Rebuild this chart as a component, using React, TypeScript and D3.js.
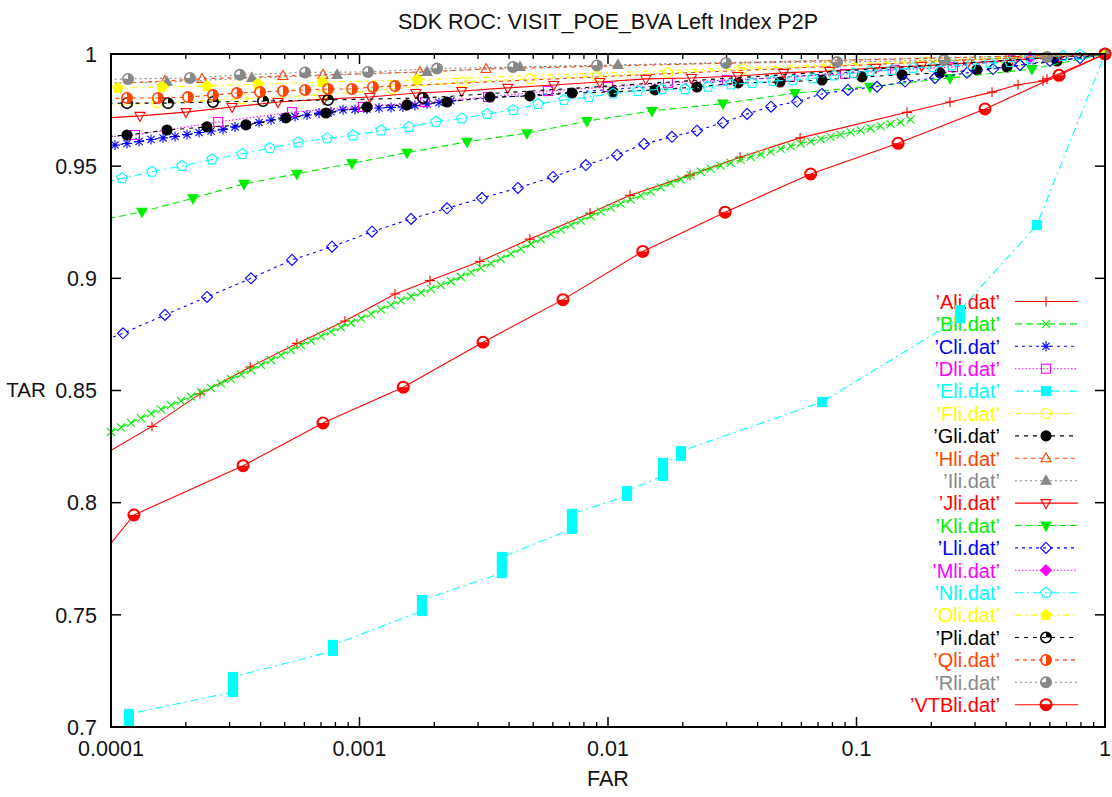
import React from "react";
import * as d3 from "d3";

type Pt = [number, number];

const TITLE = "SDK ROC: VISIT_POE_BVA Left Index P2P";
const X_LABEL = "FAR";
const Y_LABEL = "TAR";
const xTicks = [1e-4, 1e-3, 1e-2, 1e-1, 1];
const xTickLabels = ["0.0001", "0.001", "0.01", "0.1", "1"];
const yTicks = [0.7, 0.75, 0.8, 0.85, 0.9, 0.95, 1];
const yTickLabels = ["0.7", "0.75", "0.8", "0.85", "0.9", "0.95", "1"];

const dataA: Pt[] = [
  [9.03e-5, 0.8205], [1.462e-4, 0.834], [2.281e-4, 0.8485], [3.63e-4, 0.8605], [5.6e-4, 0.871],
  [8.74e-4, 0.881], [1.39e-3, 0.893], [1.921e-3, 0.899], [3.05e-3, 0.9075], [4.85e-3, 0.9175],
  [8.47e-3, 0.929], [1.226e-2, 0.937], [2.138e-2, 0.946], [3.4e-2, 0.954], [5.93e-2, 0.9626],
  [0.1597, 0.974], [0.2378, 0.9786], [0.351, 0.983], [0.4467, 0.9863], [0.563, 0.988],
  [0.5842, 0.9889], [1, 1],
];

const farB = [
  1.0e-4, 1.097e-4, 1.203e-4, 1.32e-4, 1.448e-4, 1.589e-4, 1.743e-4, 1.912e-4, 2.097e-4, 2.301e-4,
  2.524e-4, 2.769e-4, 3.038e-4, 3.333e-4, 3.656e-4, 4.011e-4, 4.4e-4, 4.827e-4, 5.295e-4, 5.809e-4,
  6.373e-4, 6.991e-4, 7.669e-4, 8.414e-4, 9.23e-4, 1.013e-3, 1.111e-3, 1.219e-3, 1.337e-3, 1.467e-3,
  1.609e-3, 1.765e-3, 1.936e-3, 2.124e-3, 2.33e-3, 2.556e-3, 2.805e-3, 3.077e-3, 3.375e-3, 3.703e-3,
  4.062e-3, 4.456e-3, 4.889e-3, 5.363e-3, 5.883e-3, 6.454e-3, 7.081e-3, 7.768e-3, 8.521e-3, 9.348e-3,
  1.026e-2, 1.125e-2, 1.234e-2, 1.354e-2, 1.485e-2, 1.63e-2, 1.788e-2, 1.961e-2, 2.151e-2, 2.36e-2,
  2.589e-2, 2.841e-2, 3.116e-2, 3.419e-2, 3.75e-2, 4.114e-2, 4.513e-2, 4.951e-2, 5.432e-2, 5.959e-2,
  6.537e-2, 7.171e-2, 7.867e-2, 8.63e-2, 9.468e-2, 0.1039, 0.114, 0.125, 0.1371, 0.1504, 0.165,
];
const tarB = [
  0.8315, 0.8336, 0.8356, 0.8377, 0.8397, 0.8416, 0.8435, 0.8454, 0.8473, 0.8492,
  0.8512, 0.8532, 0.8552, 0.8572, 0.8592, 0.8614, 0.8636, 0.8658, 0.868, 0.8702,
  0.8722, 0.8742, 0.8762, 0.8782, 0.8802, 0.8822, 0.8842, 0.8862, 0.8882, 0.8902,
  0.8919, 0.8936, 0.8953, 0.897, 0.8987, 0.9007, 0.9027, 0.9047, 0.9067, 0.9087,
  0.9109, 0.9131, 0.9153, 0.9175, 0.9197, 0.9217, 0.9237, 0.9257, 0.9277, 0.9297,
  0.9315, 0.9333, 0.9351, 0.9369, 0.9387, 0.9405, 0.9423, 0.9441, 0.9459, 0.9476,
  0.9489, 0.9502, 0.9515, 0.9528, 0.9541, 0.9553, 0.9565, 0.9577, 0.9589, 0.9601,
  0.9611, 0.9621, 0.9631, 0.9641, 0.9651, 0.966, 0.9669, 0.9678, 0.9687, 0.9696, 0.9707,
];

const farC = [
  9.0e-5, 1.038e-4, 1.16e-4, 1.297e-4, 1.449e-4, 1.62e-4, 1.81e-4, 2.023e-4, 2.261e-4, 2.527e-4,
  2.824e-4, 3.156e-4, 3.527e-4, 3.942e-4, 4.405e-4, 4.923e-4, 5.502e-4, 6.149e-4, 6.872e-4, 7.68e-4,
  8.583e-4, 9.592e-4, 1.072e-3, 1.198e-3, 1.339e-3, 1.496e-3, 1.672e-3, 1.869e-3, 2.088e-3, 2.334e-3, 1,
];
const tarC = [
  0.9588, 0.9594, 0.9601, 0.961, 0.9619, 0.9626, 0.9632, 0.9641, 0.965, 0.9657,
  0.9664, 0.9675, 0.9684, 0.9695, 0.9706, 0.9715, 0.9721, 0.9728, 0.9737, 0.9742,
  0.9751, 0.9753, 0.9755, 0.9759, 0.9762, 0.9764, 0.977, 0.9777, 0.9784, 0.9791, 1,
];

const dataD: Pt[] = [
  [7e-5, 0.962], [1.249e-4, 0.9639], [2.7e-4, 0.9697], [5.35e-4, 0.9741], [1.033e-3, 0.9764],
  [1.835e-3, 0.9786], [3.29e-3, 0.9808], [5.73e-3, 0.9835], [1.0e-2, 0.9853], [1.743e-2, 0.9871],
  [3.01e-2, 0.9884], [5.4e-2, 0.9898], [8.99e-2, 0.9911], [0.1429, 0.9929], [0.2445, 0.9942],
  [0.4147, 0.9973], [1, 1],
];

const dataE: Pt[] = [
  [1.181e-4, 0.7018], [1.181e-4, 0.704], [1.181e-4, 0.7058],
  [3.1e-4, 0.7156], [3.1e-4, 0.7192], [3.1e-4, 0.7223],
  [7.82e-4, 0.7339], [7.82e-4, 0.7366],
  [1.784e-3, 0.7517], [1.784e-3, 0.7548], [1.784e-3, 0.7566],
  [3.74e-3, 0.7686], [3.74e-3, 0.7722], [3.74e-3, 0.7758],
  [7.16e-3, 0.7883], [7.16e-3, 0.7918], [7.16e-3, 0.795],
  [1.193e-2, 0.803], [1.193e-2, 0.8052],
  [1.665e-2, 0.8119], [1.665e-2, 0.8155], [1.665e-2, 0.8177],
  [1.967e-2, 0.8208], [1.967e-2, 0.823],
  [7.27e-2, 0.8449],
  [0.261, 0.8823], [0.261, 0.8859],
  [0.532, 0.9238],
  [1, 1],
];

const dataF: Pt[] = [
  [8e-5, 0.9765], [1.531e-4, 0.9782], [3.37e-4, 0.98], [7.07e-4, 0.9817], [1.351e-3, 0.9844],
  [2.585e-3, 0.9875], [4.85e-3, 0.9889], [9.03e-3, 0.9902], [1.743e-2, 0.9916], [3.49e-2, 0.9933],
  [7.68e-2, 0.9947], [0.1921, 0.9964], [0.3886, 0.9982], [1, 1],
];

const dataG: Pt[] = [
  [9e-5, 0.963], [1.16e-4, 0.9639], [1.68e-4, 0.9661], [2.434e-4, 0.9675], [3.49e-4, 0.9684],
  [5.06e-4, 0.9715], [7.33e-4, 0.9737], [1.072e-3, 0.9764], [1.553e-3, 0.9773], [2.25e-3, 0.9786],
  [3.35e-3, 0.9808], [4.85e-3, 0.9813], [7.17e-3, 0.9826], [1.047e-2, 0.9831], [1.546e-2, 0.984],
  [2.28e-2, 0.9853], [3.34e-2, 0.9871], [4.92e-2, 0.9875], [7.26e-2, 0.9884], [0.1052, 0.9898],
  [0.1525, 0.9907], [0.2168, 0.9916], [0.3053, 0.9929], [0.4033, 0.9942], [0.641, 0.9969], [1, 1],
];

const dataH: Pt[] = [
  [9e-5, 0.9864], [1.649e-4, 0.988], [2.323e-4, 0.9889], [4.92e-4, 0.9902], [7.13e-4, 0.9907],
  [1.752e-3, 0.992], [3.23e-3, 0.9933], [1, 1],
];

const dataI: Pt[] = [
  [9e-5, 0.987], [1.68e-4, 0.9875], [3.69e-4, 0.9893], [8.12e-4, 0.9907], [1.869e-3, 0.992],
  [4.42e-3, 0.9942], [1.097e-2, 0.9951], [1, 1],
];

const dataJ: Pt[] = [
  [8.5e-5, 0.9712], [1.308e-4, 0.9724], [2.003e-4, 0.9741], [3.07e-4, 0.9764], [4.7e-4, 0.9786],
  [7.19e-4, 0.9799], [1.101e-3, 0.9808], [1.686e-3, 0.9826], [2.58e-3, 0.9835], [3.95e-3, 0.9849],
  [6.05e-3, 0.9862], [9.27e-3, 0.9875], [1.419e-2, 0.9889], [2.17e-2, 0.9893], [3.33e-2, 0.9902],
  [5.09e-2, 0.9916], [7.8e-2, 0.9924], [0.1194, 0.9938], [0.1828, 0.9947], [0.28, 0.996],
  [0.429, 0.9973], [0.656, 0.9987], [1, 1],
];

const dataK: Pt[] = [
  [8e-5, 0.9245], [1.332e-4, 0.9297], [2.138e-4, 0.9357], [3.43e-4, 0.9421], [5.6e-4, 0.9466],
  [9.33e-4, 0.9513], [1.553e-3, 0.956], [2.708e-3, 0.9609], [4.72e-3, 0.9647], [8.23e-3, 0.9701],
  [1.503e-2, 0.9746], [2.9e-2, 0.9779], [5.66e-2, 0.9826], [0.1133, 0.9854], [0.2378, 0.9893],
  [0.5084, 0.9933], [1, 1],
];

const dataL: Pt[] = [
  [8e-5, 0.8694], [1.118e-4, 0.8755], [1.649e-4, 0.8837], [2.434e-4, 0.8917], [3.66e-4, 0.9],
  [5.35e-4, 0.9082], [7.75e-4, 0.9141], [1.123e-3, 0.9208], [1.612e-3, 0.9265], [2.25e-3, 0.9312],
  [3.11e-3, 0.9358], [4.34e-3, 0.9403], [6.01e-3, 0.9452], [8.15e-3, 0.9505], [1.087e-2, 0.955],
  [1.396e-2, 0.9599], [1.809e-2, 0.9631], [2.28e-2, 0.9658], [2.9e-2, 0.9694], [3.63e-2, 0.9733],
  [4.53e-2, 0.9765], [5.76e-2, 0.9788], [7.26e-2, 0.9822], [9.24e-2, 0.984], [0.1209, 0.9854],
  [0.1568, 0.9877], [0.2069, 0.9893], [0.2784, 0.9916], [0.3542, 0.9933], [0.455, 0.9951],
  [0.6006, 0.9969], [0.7932, 0.9982], [1, 1],
];

const dataM: Pt[] = [[0.5, 0.9985], [1, 1]];

const dataN: Pt[] = [
  [9e-5, 0.9423], [1.107e-4, 0.9446], [1.462e-4, 0.9475], [1.931e-4, 0.9501], [2.55e-4, 0.953],
  [3.37e-4, 0.9554], [4.36e-4, 0.9581], [5.66e-4, 0.9606], [7.4e-4, 0.9624], [9.42e-4, 0.9637],
  [1.221e-3, 0.9659], [1.582e-3, 0.9675], [2.032e-3, 0.9698], [2.585e-3, 0.9713], [3.26e-3, 0.9733],
  [4.15e-3, 0.975], [5.23e-3, 0.9777], [6.65e-3, 0.9795], [8.38e-3, 0.9808], [1.047e-2, 0.9824],
  [1.32e-2, 0.9835], [1.649e-2, 0.9843], [2.041e-2, 0.9843], [2.526e-2, 0.9854], [3.126e-2, 0.9864],
  [3.8e-2, 0.9871], [4.61e-2, 0.988], [5.55e-2, 0.9883], [6.68e-2, 0.9892], [8.12e-2, 0.9904],
  [9.77e-2, 0.9914], [0.1133, 0.9924], [0.139, 0.9929], [0.1689, 0.9938], [0.2032, 0.9942],
  [0.2423, 0.9949], [0.2889, 0.9953], [0.3445, 0.996], [0.4147, 0.9964], [0.4991, 0.998],
  [0.5842, 0.9987], [0.6776, 0.9991], [0.7932, 0.9996], [1, 1],
];

const dataO: Pt[] = [
  [9e-5, 0.9846], [1.067e-4, 0.9848], [1.604e-4, 0.9853], [2.434e-4, 0.9857], [3.9e-4, 0.9866],
  [7.07e-4, 0.9875], [1.703e-3, 0.9884], [1, 1],
];

const dataP: Pt[] = [
  [9e-5, 0.978], [1.16e-4, 0.9781], [1.696e-4, 0.9781], [2.573e-4, 0.9786], [4.09e-4, 0.979],
  [7.47e-4, 0.9795], [1.801e-3, 0.9804], [1, 1],
];

const dataQ: Pt[] = [
  [9e-5, 0.98], [1.16e-4, 0.9804], [1.546e-4, 0.9804], [2.041e-4, 0.9808], [2.573e-4, 0.9817],
  [3.21e-4, 0.9826], [3.98e-4, 0.9831], [4.92e-4, 0.9835], [6.04e-4, 0.984], [7.47e-4, 0.9844],
  [9.33e-4, 0.9844], [1.133e-3, 0.9853], [1.39e-3, 0.9857], [1, 1],
];

const dataR: Pt[] = [
  [9e-5, 0.9885], [1.171e-4, 0.9889], [2.079e-4, 0.9893], [3.3e-4, 0.9907], [6.04e-4, 0.9918],
  [1.082e-3, 0.992], [2.051e-3, 0.9935], [4.15e-3, 0.9942], [9.03e-3, 0.9949], [2.985e-2, 0.996],
  [8.35e-2, 0.9964], [0.225, 0.9973], [0.5842, 0.9987], [1, 1],
];

const dataVTB: Pt[] = [
  [9.03e-5, 0.776], [1.237e-4, 0.7945], [3.4e-4, 0.8165], [7.13e-4, 0.8355], [1.5e-3, 0.8515],
  [3.14e-3, 0.8715], [6.59e-3, 0.8905], [1.38e-2, 0.912], [2.96e-2, 0.9295], [6.54e-2, 0.9465],
  [0.147, 0.9602], [0.329, 0.9755], [0.653, 0.9905], [1, 1],
];

const zip = (a: number[], b: number[]): Pt[] => a.map((v, i) => [v, b[i]]);

const RED = "#ff0000", GREEN = "#00ee00", BLUE = "#0000ff", MAG = "#ff00ff", CYAN = "#00ffff",
  YEL = "#ffff00", BLK = "#000000", ORG = "#ff4500", GRY = "#888888";

const series = [
  { name: "’Ali.dat’", color: RED, dash: "", marker: "plus", data: dataA },
  { name: "’Bli.dat’", color: GREEN, dash: "7,4", marker: "cross", data: zip(farB, tarB) },
  { name: "’Cli.dat’", color: BLUE, dash: "3,4", marker: "star", data: zip(farC, tarC) },
  { name: "’Dli.dat’", color: MAG, dash: "1.5,2", marker: "square", data: dataD },
  { name: "’Eli.dat’", color: CYAN, dash: "8,4,2,4", marker: "squareF", data: dataE },
  { name: "’Fli.dat’", color: YEL, dash: "6,4,2,4", marker: "circle", data: dataF },
  { name: "’Gli.dat’", color: BLK, dash: "4,5", marker: "circleF", data: dataG },
  { name: "’Hli.dat’", color: ORG, dash: "4,4", marker: "tri", data: dataH },
  { name: "’Ili.dat’", color: GRY, dash: "2,3", marker: "triF", data: dataI },
  { name: "’Jli.dat’", color: RED, dash: "", marker: "triD", data: dataJ },
  { name: "’Kli.dat’", color: GREEN, dash: "7,4", marker: "triDF", data: dataK },
  { name: "’Lli.dat’", color: BLUE, dash: "3,4", marker: "diamond", data: dataL },
  { name: "’Mli.dat’", color: MAG, dash: "1.5,2", marker: "diamondF", data: dataM },
  { name: "’Nli.dat’", color: CYAN, dash: "8,4,2,4", marker: "pent", data: dataN },
  { name: "’Oli.dat’", color: YEL, dash: "6,4,2,4", marker: "pentF", data: dataO },
  { name: "’Pli.dat’", color: BLK, dash: "4,5", marker: "pie1", data: dataP },
  { name: "’Qli.dat’", color: ORG, dash: "4,4", marker: "pie2", data: dataQ },
  { name: "’Rli.dat’", color: GRY, dash: "2,3", marker: "pie3", data: dataR },
  { name: "’VTBli.dat’", color: RED, dash: "", marker: "pieV", data: dataVTB },
];

const FONT = "'Liberation Sans', Arial, Helvetica, sans-serif";
const L = 111, R = 1105, T = 54, B = 727;

function sector(r: number, a0: number, a1: number) {
  const p = (a: number) => `${(r * Math.cos((a * Math.PI) / 180)).toFixed(2)},${(r * Math.sin((a * Math.PI) / 180)).toFixed(2)}`;
  const large = a1 - a0 > 180 ? 1 : 0;
  return `M0,0L${p(a0)}A${r},${r} 0 ${large} 1 ${p(a1)}Z`;
}

function poly(n: number, r: number, rot: number) {
  const pts = d3.range(n).map((k) => {
    const a = ((rot + (360 * k) / n) * Math.PI) / 180;
    return `${(r * Math.cos(a)).toFixed(2)},${(r * Math.sin(a)).toFixed(2)}`;
  });
  return `M${pts.join("L")}Z`;
}

function Marker({ type, color, x, y }: { type: string; color: string; x: number; y: number }) {
  const sw = 1.1;
  const open = { fill: "none", stroke: color, strokeWidth: sw };
  const full = { fill: color, stroke: color, strokeWidth: sw };
  let el: React.ReactNode = null;
  switch (type) {
    case "plus": el = <path d="M-5,0H5M0,-5V5" {...open} />; break;
    case "cross": el = <path d="M-4,-4L4,4M-4,4L4,-4" {...open} />; break;
    case "star": el = <path d="M-5,0H5M0,-5V5M-3.6,-3.6L3.6,3.6M-3.6,3.6L3.6,-3.6" {...open} />; break;
    case "square": el = <rect x={-4.5} y={-4.5} width={9} height={9} {...open} />; break;
    case "squareF": el = <rect x={-4.5} y={-4.5} width={9} height={9} {...full} />; break;
    case "circle": el = <circle r={5} {...open} />; break;
    case "circleF": el = <circle r={5} {...full} />; break;
    case "tri": el = <path d="M0,-5.5L5,3.5L-5,3.5Z" {...open} />; break;
    case "triF": el = <path d="M0,-5.5L5,3.5L-5,3.5Z" {...full} />; break;
    case "triD": el = <path d="M0,5.5L5,-3.5L-5,-3.5Z" {...open} />; break;
    case "triDF": el = <path d="M0,5.5L5,-3.5L-5,-3.5Z" {...full} />; break;
    case "diamond": el = <path d="M0,-5.5L5.5,0L0,5.5L-5.5,0Z" {...open} />; break;
    case "diamondF": el = <path d="M0,-5.5L5.5,0L0,5.5L-5.5,0Z" {...full} />; break;
    case "pent": el = <path d={poly(5, 5.5, -90)} {...open} />; break;
    case "pentF": el = <path d={poly(5, 5.5, -90)} {...full} />; break;
    case "pie1":
      el = (<g><circle r={5.2} {...open} strokeWidth={1.6} /><path d={sector(5.2, -90, 0)} fill={color} /></g>);
      break;
    case "pie2":
      el = (<g><circle r={5.2} {...open} strokeWidth={1.6} /><path d={sector(5.2, -90, 90)} fill={color} /></g>);
      break;
    case "pie3":
      el = (<g><circle r={5.2} {...open} strokeWidth={1.6} /><path d={sector(5.2, -90, 180)} fill={color} /></g>);
      break;
    case "pieV":
      el = (<g><circle r={5.5} {...open} strokeWidth={2} /><path d={sector(5.5, 0, 180)} fill={color} /></g>);
      break;
  }
  return <g transform={`translate(${x},${y})`}>{el}</g>;
}

export default function App() {
  const x = d3.scaleLog().domain([1e-4, 1]).range([L, R]);
  const y = d3.scaleLinear().domain([0.7, 1]).range([B, T]);
  const line = d3.line<Pt>().x((d) => x(d[0])).y((d) => y(d[1]));

  const minor: number[] = [];
  for (let e = -4; e < 0; e++) for (let m = 2; m <= 9; m++) minor.push(m * Math.pow(10, e));

  const legendY0 = 301.5, legendStep = 22.4;
  const inRange = (d: Pt) => d[0] >= 1e-4 * 0.999 && d[0] <= 1.0001 && d[1] >= 0.6999 && d[1] <= 1.0001;
  const FS = 21.5;

  return (
    <svg width={1112} height={797} style={{ position: "absolute", left: 0, top: 0, background: "#fff" }} fontFamily={FONT}>
      <defs>
        <clipPath id="plotclip"><rect x={L} y={T} width={R - L} height={B - T} /></clipPath>
      </defs>
      <rect x={0} y={0} width={1112} height={797} fill="#fff" />
      <text x={(L + R) / 2} y={29} textAnchor="middle" fontSize={FS} fill="#111">{TITLE}</text>

      {yTicks.map((t, i) => (
        <g key={"yt" + i}>
          <line x1={L} x2={L + 10} y1={y(t)} y2={y(t)} stroke="#000" strokeWidth={1.5} />
          <line x1={R} x2={R - 10} y1={y(t)} y2={y(t)} stroke="#000" strokeWidth={1.5} />
          <text x={97} y={y(t)} dy="0.36em" textAnchor="end" fontSize={FS} fill="#111">{yTickLabels[i]}</text>
        </g>
      ))}
      {xTicks.map((t, i) => (
        <g key={"xt" + i}>
          <line x1={x(t)} x2={x(t)} y1={B} y2={B - 10} stroke="#000" strokeWidth={1.5} />
          <line x1={x(t)} x2={x(t)} y1={T} y2={T + 10} stroke="#000" strokeWidth={1.5} />
          <text x={x(t)} y={756} textAnchor="middle" fontSize={FS} fill="#111">{xTickLabels[i]}</text>
        </g>
      ))}
      {minor.map((t, i) => (
        <g key={"mt" + i}>
          <line x1={x(t)} x2={x(t)} y1={B} y2={B - 5} stroke="#000" strokeWidth={1.3} />
          <line x1={x(t)} x2={x(t)} y1={T} y2={T + 5} stroke="#000" strokeWidth={1.3} />
        </g>
      ))}
      <text x={26} y={390} dy="0.36em" textAnchor="middle" fontSize={20.5} fill="#111">{Y_LABEL}</text>
      <text x={(L + R) / 2} y={786} textAnchor="middle" fontSize={FS} fill="#111">{X_LABEL}</text>

      {series.map((s, i) => {
        const ly = legendY0 + i * legendStep;
        return (
          <g key={"lg" + i}>
            <text x={1000} y={ly} dy="0.36em" textAnchor="end" fontSize={20} fill={s.color}>{s.name}</text>
            <line x1={1015} x2={1078} y1={ly} y2={ly} stroke={s.color} strokeWidth={1.1} strokeDasharray={s.dash || undefined} />
            <Marker type={s.marker} color={s.color} x={1046} y={ly} />
          </g>
        );
      })}

      {series.map((s, i) => (
        <g key={"s" + i}>
          <path d={line(s.data) || ""} fill="none" stroke={s.color} strokeWidth={1.1} strokeDasharray={s.dash || undefined} clipPath="url(#plotclip)" />
          {s.data.filter(inRange).map((d, j) => (
            <Marker key={j} type={s.marker} color={s.color} x={x(d[0])} y={y(d[1])} />
          ))}
        </g>
      ))}

      <rect x={L} y={T} width={R - L} height={B - T} fill="none" stroke="#000" strokeWidth={2} />
    </svg>
  );
}
